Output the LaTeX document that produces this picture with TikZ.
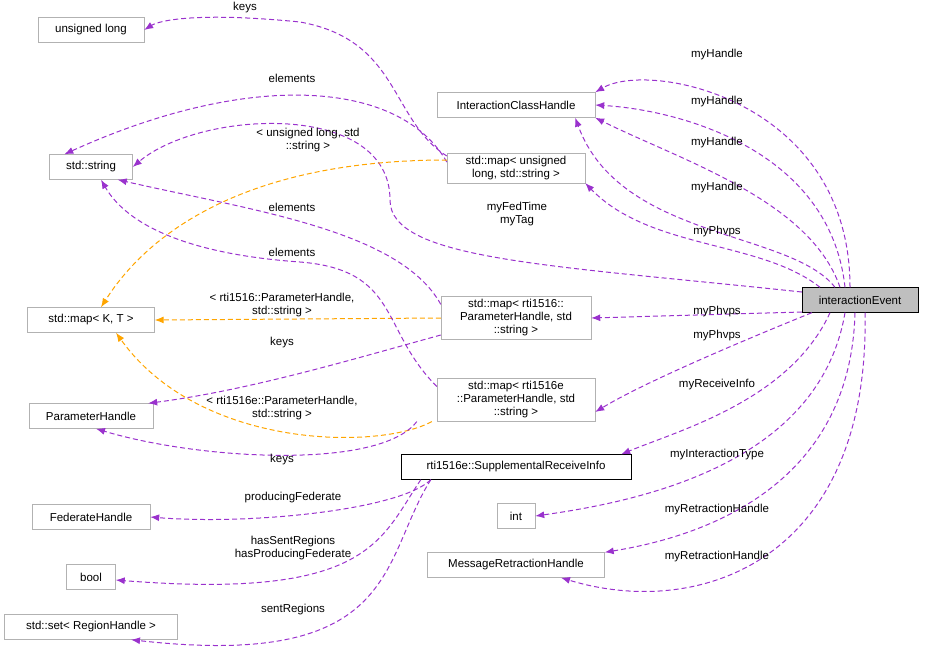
\documentclass[tikz,border=0pt]{standalone}
\usepackage{fontspec}
\setmainfont{Liberation Sans}
\usetikzlibrary{arrows,arrows.meta}
\definecolor{edgepurple}{RGB}{154,50,205}
\definecolor{edgeorange}{RGB}{255,165,0}
\tikzstyle{cls}=[rectangle,draw=black!30,fill=white,inner sep=3pt,minimum height=25pt,align=center,font=\fontsize{11.5}{13}\selectfont]
\tikzstyle{mine}=[rectangle,draw=black,fill=black!25,inner sep=3pt,minimum height=25pt,minimum width=116pt,font=\fontsize{11.5}{13}\selectfont]
\tikzstyle{usage}=[edgepurple,-{Latex[length=9pt,width=7pt]},line width=1pt,dash pattern=on 5pt off 3pt]
\tikzstyle{templ}=[edgeorange,-{Latex[length=9pt,width=7pt]},line width=1pt,dash pattern=on 5pt off 3pt]
\tikzstyle{lbl}=[align=center,font=\fontsize{11.5}{13}\selectfont]

\begin{document}
\begin{tikzpicture}[x=1pt,y=-1pt]
  \useasboundingbox (0,0) rectangle (925,664);

  \node[mine] (ev) at (860,300) {interactionEvent};
  \node[cls,minimum width=106pt] (ul) at (91,30) {unsigned long};
  \node[cls,minimum width=158pt] (ich) at (516,105) {InteractionClassHandle};
  \node[cls,minimum width=83pt] (str) at (91,167) {std::string};
  \node[cls,minimum width=138pt] (mul) at (516,168) {std::map\textless{} unsigned\\long, std::string \textgreater};
  \node[cls,minimum width=127pt] (mkt) at (91,320) {std::map\textless{} K, T \textgreater};
  \node[cls,minimum width=150pt] (mph) at (516,318) {std::map\textless{} rti1516::\\ParameterHandle, std\\::string \textgreater};
  \node[cls,minimum width=124pt] (ph) at (91,416) {ParameterHandle};
  \node[cls,minimum width=158pt] (mphe) at (516,400) {std::map\textless{} rti1516e\\::ParameterHandle, std\\::string \textgreater};
  \node[cls,draw=black,minimum width=230pt] (sri) at (516,467) {rti1516e::SupplementalReceiveInfo};
  \node[cls,minimum width=118pt] (fh) at (91,517) {FederateHandle};
  \node[cls,minimum width=38pt] (int) at (516,516) {int};
  \node[cls,minimum width=49pt] (boo) at (91,577) {bool};
  \node[cls,minimum width=177pt] (mrh) at (516,565) {MessageRetractionHandle};
  \node[cls,minimum width=173pt] (set) at (91,627) {std::set\textless{} RegionHandle \textgreater};

  % members of interactionEvent
  \draw[usage] (ev.north) ++(-10,0) .. controls (850,100) and (650,60) .. (ich.north east);
  \draw[usage] (ev.north) ++(-15,0) .. controls (830,150) and (680,110) .. (ich.east);
  \draw[usage] (ev.north) ++(-20,0) .. controls (810,200) and (680,160) .. (ich.south east);
  \draw[usage] (ev.north) ++(-25,0) .. controls (790,230) and (620,240) .. ([xshift=-20pt]ich.south east);
  \draw[usage] (ev.west) ++(0,-8) .. controls (550,265) and (390,260) .. (390,200)
    .. controls (390,100) and (200,110) .. (str.east);
  \draw[usage] (ev.north) ++(-40,0) .. controls (760,240) and (650,250) .. (mul.south east);
  \draw[usage] (ev.west) ++(0,12) -- (mph.east);
  \draw[usage] (ev.south west) ++(10,0) .. controls (720,350) and (640,385) .. ([yshift=-12pt]mphe.east);
  \draw[usage] (ev.south) ++(-30,0) .. controls (790,400) and (680,430) .. ([xshift=-10pt]sri.north east);
  \draw[usage] (ev.south) ++(-15,0) .. controls (820,460) and (650,500) .. (int.east);
  \draw[usage] (ev.south) ++(-5,0) .. controls (850,500) and (680,540) .. (mrh.north east);
  \draw[usage] (ev.south) ++(5,0) .. controls (870,560) and (700,620) .. ([xshift=45pt]mrh.south);

  % template arguments
  \draw[usage] (mul.west) ++(0,-12) .. controls (390,120) and (400,40) .. (300,22)
    .. controls (200,12) and (160,20) .. (ul.east);
  \draw[usage] (mul.west) ++(0,-6) .. controls (400,80) and (250,70) .. ([xshift=15pt]str.north west);
  \draw[templ] (mul.west) ++(0,-8) .. controls (250,160) and (150,230) .. ([xshift=10pt]mkt.north);
  \draw[usage] (mph.north west) ++(0,8) .. controls (400,230) and (250,210) .. ([xshift=-15pt]str.south east);
  \draw[templ] (mph.west) -- (mkt.east);
  \draw[usage] (mph.west) ++(0,17) .. controls (350,360) and (250,390) .. ([xshift=-5pt]ph.north east);
  \draw[usage] (mphe.north west) ++(0,8) .. controls (380,330) and (400,270) .. (300,262)
    .. controls (200,255) and (130,230) .. ([xshift=10pt]str.south);
  \draw[templ] (mphe.south west) ++(-5,0) .. controls (380,450) and (200,450) .. ([xshift=25pt]mkt.south);
  \draw[usage] (mphe.south west) ++(-20,0) .. controls (380,470) and (200,460) .. ([xshift=5pt]ph.south);

  % members of SupplementalReceiveInfo
  \draw[usage] (sri.south west) ++(30,0) .. controls (400,510) and (250,525) .. (fh.east);
  \draw[usage] (sri.south west) ++(20,0) .. controls (380,540) and (370,600) .. ([yshift=-3pt]boo.east);
  \draw[usage] (sri.south west) ++(30,0) .. controls (380,560) and (400,670) .. ([xshift=40pt]set.south);

  % edge labels
  \node[lbl] (l1) at (717,55) {myHandle};
  \node[lbl] (l2) at (717,102) {myHandle};
  \node[lbl] (l3) at (717,143) {myHandle};
  \node[lbl] (l4) at (717,188) {myHandle};
  \node[lbl] (l5) at (517,214) {myFedTime\\myTag};
  \node[lbl] (l6) at (717,232) {myPhvps};
  \node[lbl] (l7) at (717,312) {myPhvps};
  \node[lbl] (l8) at (717,336) {myPhvps};
  \node[lbl] (l9) at (717,385) {myReceiveInfo};
  \node[lbl] (l10) at (717,455) {myInteractionType};
  \node[lbl] (l11) at (717,510) {myRetractionHandle};
  \node[lbl] (l12) at (717,557) {myRetractionHandle};
  \node[lbl] (l13) at (245,8) {keys};
  \node[lbl] (l14) at (292,78) {elements};
  \node[lbl] (l15) at (308,140) {\textless{} unsigned long, std\\::string \textgreater};
  \node[lbl] (l16) at (292,207) {elements};
  \node[lbl] (l17) at (292,252) {elements};
  \node[lbl] (l18) at (282,305) {\textless{} rti1516::ParameterHandle,\\std::string \textgreater};
  \node[lbl] (l19) at (282,343) {keys};
  \node[lbl] (l20) at (282,408) {\textless{} rti1516e::ParameterHandle,\\std::string \textgreater};
  \node[lbl] (l21) at (282,460) {keys};
  \node[lbl] (l22) at (293,498) {producingFederate};
  \node[lbl] (l23) at (293,548) {hasSentRegions\\hasProducingFederate};
  \node[lbl] (l24) at (293,610) {sentRegions};
\end{tikzpicture}
\end{document}
